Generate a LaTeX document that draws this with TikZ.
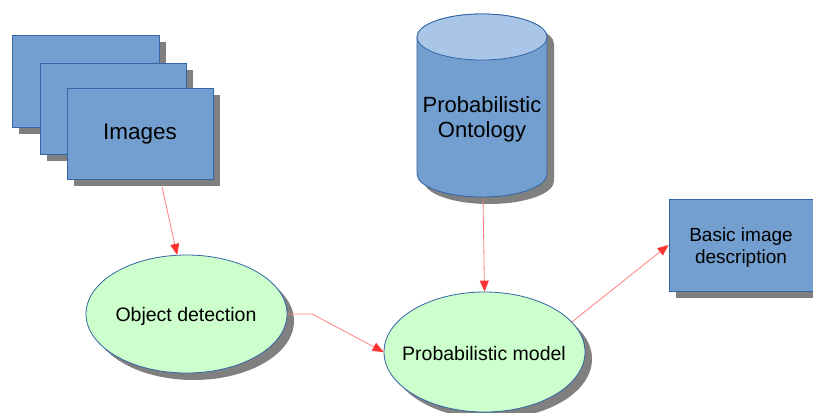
\documentclass[tikz,border=0pt]{standalone}
\usepackage{fontspec}
\setmainfont{Liberation Sans}
\usetikzlibrary{shapes.geometric,shadows,arrows.meta}
\definecolor{boxblue}{HTML}{729FCF}
\definecolor{edgeblue}{HTML}{3465A4}
\definecolor{topblue}{HTML}{A9C6E8}
\definecolor{ellgreen}{HTML}{CCFFCC}
\definecolor{shgray}{HTML}{808080}
\definecolor{arrline}{HTML}{FF8080}
\definecolor{arrtip}{HTML}{FF3333}
\begin{document}
\begin{tikzpicture}[x=1pt,y=-1pt,
  shade7/.style={general shadow={fill=shgray, shadow xshift=7pt, shadow yshift=-7pt}},
  bluebox/.style={rectangle, draw=edgeblue, fill=boxblue, line width=0.8pt, shade7, inner sep=0pt},
  greenell/.style={ellipse, draw=edgeblue, fill=ellgreen, line width=0.8pt, shade7, inner sep=0pt},
  conn/.style={draw=arrline, line width=0.8pt, -{Triangle[length=11pt,width=9pt,color=arrtip]}},
  lbl/.style={text=black, align=center, inner sep=0pt}]
\fill[white] (0,0) rectangle (813,412);
\clip (0,0) rectangle (813,412);
\useasboundingbox (0,0) rectangle (813,412);

% image stack
\node[bluebox, minimum width=147pt, minimum height=92pt] (img1) at (85.5,81) {};
\node[bluebox, minimum width=146pt, minimum height=91pt] (img2) at (113,108.5) {};
\node[bluebox, minimum width=146pt, minimum height=91pt] (img3) at (140,133.5) {};
\node[lbl, font=\fontsize{22.5}{26}\selectfont] (imgt) at (140,134) {Images};

% cylinder (ontology)
\begin{scope}[shift={(7,7)}]
\fill[shgray] (417,37) -- (417,174) arc[start angle=180,end angle=360,x radius=65pt,y radius=23pt] -- (547,37) arc[start angle=0,end angle=180,x radius=65pt,y radius=23pt] -- cycle;
\end{scope}
\filldraw[fill=boxblue, draw=edgeblue, line width=0.8pt] (417,37) -- (417,174) arc[start angle=180,end angle=360,x radius=65pt,y radius=23pt] -- (547,37) arc[start angle=0,end angle=180,x radius=65pt,y radius=23pt] -- cycle;
\filldraw[fill=topblue, draw=edgeblue, line width=0.8pt] (482,37) ellipse[x radius=65pt, y radius=23pt];
\node[lbl, font=\fontsize{22}{25}\selectfont] (onto) at (482,119.5) {Probabilistic\\Ontology};
\coordinate (ontoout) at (483,198);

% ellipses
\node[greenell, minimum width=201pt, minimum height=118pt] (od) at (186.5,314) {};
\node[lbl, font=\fontsize{19.5}{23}\selectfont] (odt) at (186,316) {Object detection};
\node[greenell, minimum width=201pt, minimum height=120pt] (pm) at (484.5,352) {};
\node[lbl, font=\fontsize{19.5}{23}\selectfont] (pmt) at (484,353.5) {Probabilistic model};

% basic image description
\node[bluebox, minimum width=150pt, minimum height=92pt] (basic) at (744,245) {};
\node[lbl, font=\fontsize{19}{22}\selectfont] (basict) at (741,248) {Basic image\\description};

% connectors
\coordinate (imgout) at (162,187);
\coordinate (bend) at (312,314);
\draw[conn] (imgout) -- (od.99);
\draw[conn] (od.east) -- (bend) -- (pm.west);
\draw[conn] (ontoout) -- (pm.north);
\draw[conn] (pm.19.5) -- (basic.west);
\end{tikzpicture}
\end{document}
